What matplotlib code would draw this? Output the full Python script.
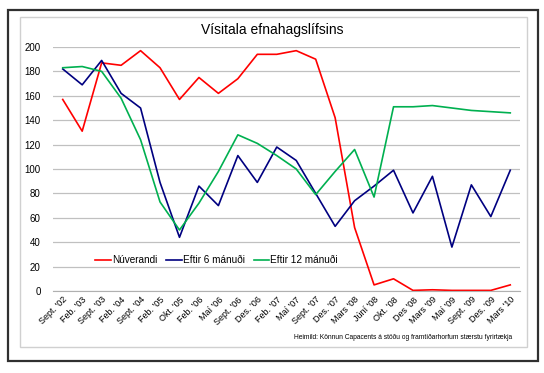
import numpy as np
import matplotlib
matplotlib.use("Agg")
import matplotlib.pyplot as plt
from matplotlib.patches import Rectangle

plt.rcParams["font.family"] = ["Liberation Sans", "DejaVu Sans"]

categories = ["Sept. '02", "Feb. '03", "Sept. '03", "Feb. '04", "Sept. '04", "Feb. '05",
              "Okt. '05", "Feb. '06", "Maí '06", "Sept. '06", "Des. '06", "Feb. '07",
              "Maí '07", "Sept. '07", "Des. '07", "Mars '08", "Júní '08", "Okt. '08",
              "Des '08", "Mars '09", "Maí '09", "Sept. '09", "Des. '09", "Mars '10"]
nuverandi = [157, 131, 187, 185, 197, 183, 157, 175, 162, 174, 194, 194,
             197, 190, 142, 52, 5, 10, 0.5, 1, 0.5, 0.5, 0.5, 5]
eftir6 = [182, 169, 189, 162, 150, 89, 44, 86, 70, 111, 89, 118,
          107, 80, 53, 74, 86, 99, 64, 94, 36, 87, 61, 99]
eftir12 = [183, 184, 180, 158, 124, 73, 50, 72, 98, 128, 121, 111,
           100, 79, 98, 116, 77, 151, 151, 152, 150, 148, 147, 146]

W, H = 544, 373
fig = plt.figure(figsize=(W / 100, H / 100), dpi=100)
fig.patch.set_facecolor("white")

# frames around the chart
fig.patches.append(Rectangle((8 / W, 1 - 361 / H), 530 / W, 351 / H, transform=fig.transFigure,
                             fill=False, edgecolor="#303030", lw=1.6))
fig.patches.append(Rectangle((20 / W, 1 - 347 / H), 507 / W, 330 / H, transform=fig.transFigure,
                             fill=False, edgecolor="#d0d0d0", lw=1.0))

ax = fig.add_axes([53 / W, 1 - 291 / H, 467 / W, 244 / H])
x = np.arange(len(categories))
ax.plot(x, nuverandi, color="#ff0000", lw=1.2, label="Núverandi")
ax.plot(x, eftir6, color="#000080", lw=1.2, label="Eftir 6 mánuði")
ax.plot(x, eftir12, color="#00b050", lw=1.2, label="Eftir 12 mánuði")

ax.set_xlim(-0.5, len(categories) - 0.5)
ax.set_ylim(0, 200)
ax.set_yticks(range(0, 201, 20))
ax.yaxis.grid(True, color="#c0c0c0", lw=0.9)
ax.set_axisbelow(True)
for s in ["top", "right", "left"]:
    ax.spines[s].set_visible(False)
ax.spines["bottom"].set_color("#b0b0b0")
ax.tick_params(axis="y", length=0, labelsize=7, pad=9)
ax.tick_params(axis="x", length=0, labelsize=6.5, pad=3)
ax.set_xticks(x)
ax.set_xticklabels(categories, rotation=45, ha="right", rotation_mode="anchor")

ax.legend(loc="center", bbox_to_anchor=(0.35, 0.127), ncol=3, frameon=False,
          fontsize=7.2, handlelength=1.55, handletextpad=0.1, columnspacing=0.9,
          borderpad=0)

fig.text(272 / W, 1 - 30 / H, "Vísitala efnahagslífsins", ha="center", va="center", fontsize=10)
fig.text(512 / W, 1 - 337 / H, "Heimild: Könnun Capacents á stöðu og framtíðarhorfum stærstu fyrirtækja",
         ha="right", va="center", fontsize=4.8)

fig.savefig("out.png", dpi=100)
